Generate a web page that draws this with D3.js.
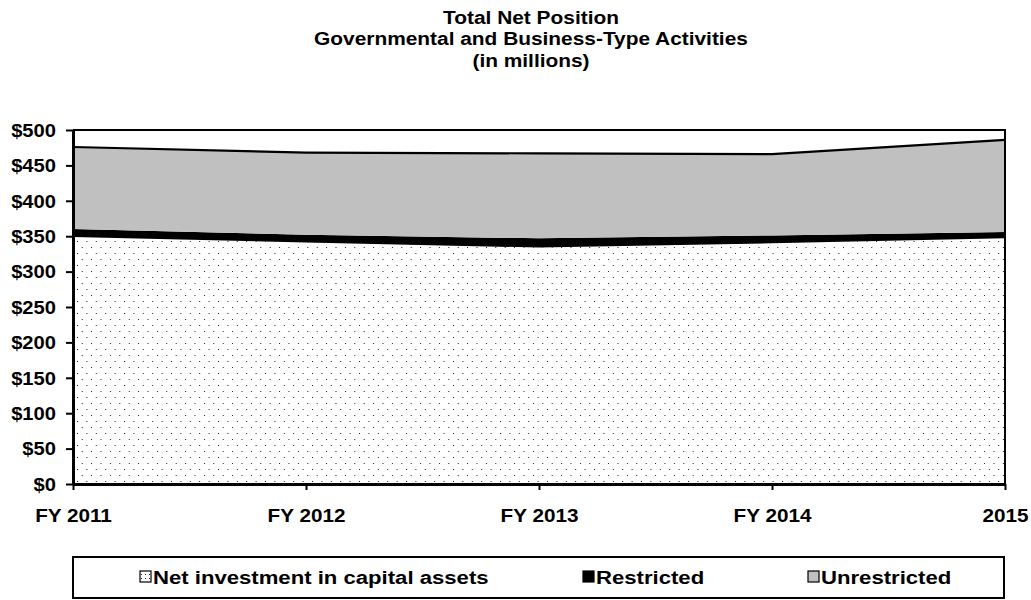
<!DOCTYPE html>
<html><head><meta charset="utf-8">
<script src="https://cdn.jsdelivr.net/npm/d3@7"></script>
<style>body{margin:0;background:#fff}svg{display:block}text{font-family:"Liberation Sans",Arial,sans-serif;font-weight:bold}</style>
</head><body>
<svg id="c" width="1031" height="600"></svg>
<script>
const years = ["FY 2011","FY 2012","FY 2013","FY 2014","2015"];
const capital = [349, 341, 334, 340, 347];
const restricted = [11, 11, 13, 11, 9];
const unrestricted = [116, 116, 120, 115, 130];
const yTicks = [0,50,100,150,200,250,300,350,400,450,500];
const seriesNames = ["Net investment in capital assets","Restricted","Unrestricted"];
const titleLines = ["Total Net Position","Governmental and Business-Type Activities","(in millions)"];

const svg = d3.select("#c");
const L=73, R=1005, T=130, B=484;
const x = d3.scalePoint().domain(years).range([L,R]);
const y = d3.scaleLinear().domain([0,500]).range([B,T]);

const defs = svg.append("defs");
const pat = defs.append("pattern").attr("id","dots").attr("patternUnits","userSpaceOnUse")
  .attr("width",9.4).attr("height",12).attr("x",L+4).attr("y",B-3);
pat.append("rect").attr("width",9.4).attr("height",12).attr("fill","#fff");
pat.append("rect").attr("x",0).attr("y",0).attr("width",1).attr("height",1).attr("fill","#222");
pat.append("rect").attr("x",4.7).attr("y",6).attr("width",1).attr("height",1).attr("fill","#222");
const pat2 = defs.append("pattern").attr("id","dots2").attr("patternUnits","userSpaceOnUse")
  .attr("width",4).attr("height",4);
pat2.append("rect").attr("width",4).attr("height",4).attr("fill","#fff");
pat2.append("rect").attr("x",1).attr("y",1).attr("width",1).attr("height",1).attr("fill","#222");

// titles
svg.selectAll("text.title").data(titleLines).join("text").attr("class","title")
  .attr("text-anchor","middle").attr("font-size",18)
  .attr("transform",(d,i)=>`translate(531,${23.5+i*21.5}) scale(1.16,1)`).text(d=>d);

const data = years.map((yr,i)=>({yr, c:capital[i], r:restricted[i], u:unrestricted[i]}));
const stack = d3.stack().keys(["c","r","u"])(data);
const area = d3.area().x(d=>x(d.data.yr)).y0(d=>y(d[0])).y1(d=>y(d[1]));
const fills = ["url(#dots)","#000","#c0c0c0"];

svg.append("path").attr("d",`M${L},${T}H${R}V${B}`).attr("fill","none").attr("stroke","#000").attr("stroke-width",2);

svg.selectAll("path.area").data(stack).join("path").attr("class","area")
  .attr("d",area).attr("fill",(d,i)=>fills[i]);
const line = d3.line().x(d=>x(d.data.yr)).y(d=>y(d[1]));
svg.append("path").attr("d",line(stack[2])).attr("fill","none").attr("stroke","#000").attr("stroke-width",2.2);
svg.append("line").attr("x1",R).attr("x2",R).attr("y1",T).attr("y2",B).attr("stroke","#000").attr("stroke-width",2);

// axes
const yAxis = d3.axisLeft(y).tickValues(yTicks).tickSize(7).tickSizeOuter(0).tickFormat(d=>"$"+d);
const gy = svg.append("g").attr("transform",`translate(${L},0)`).call(yAxis);
gy.select(".domain").attr("stroke-width",3);
gy.selectAll(".tick line").attr("stroke-width",2);
gy.selectAll(".tick text").attr("font-size",18).attr("fill","#000").attr("x",0).attr("dy","0.35em")
  .attr("transform","translate(-17,0) scale(1.12,1)")
  .style("font-family","'Liberation Sans',Arial,sans-serif").style("font-weight","bold");

const xAxis = d3.axisBottom(x).tickSize(6).tickSizeOuter(0);
const gx = svg.append("g").attr("transform",`translate(0,${B})`).call(xAxis);
gx.select(".domain").attr("stroke-width",3);
gx.selectAll(".tick line").attr("stroke-width",2);
gx.selectAll(".tick text").attr("font-size",18.5).attr("fill","#000").attr("y",0).attr("dy",0)
  .attr("transform","translate(0,38) scale(1.12,1)")
  .style("font-family","'Liberation Sans',Arial,sans-serif").style("font-weight","bold");

// legend
svg.append("rect").attr("x",73).attr("y",557).attr("width",931).attr("height",41)
  .attr("fill","#fff").attr("stroke","#000").attr("stroke-width",2);
const legX = [140, 583, 808];
const swFill = ["url(#dots2)","#000","#c0c0c0"];
const lg = svg.selectAll("g.leg").data(seriesNames).join("g").attr("class","leg")
  .attr("transform",(d,i)=>`translate(${legX[i]},577)`);
lg.append("rect").attr("x",0).attr("y",-6).attr("width",11).attr("height",11)
  .attr("fill",(d,i)=>swFill[i]).attr("stroke","#000").attr("stroke-width",1.2);
lg.append("text").attr("font-size",18).attr("transform","translate(13,6.5) scale(1.23,1)").text(d=>d);
</script>
</body></html>
